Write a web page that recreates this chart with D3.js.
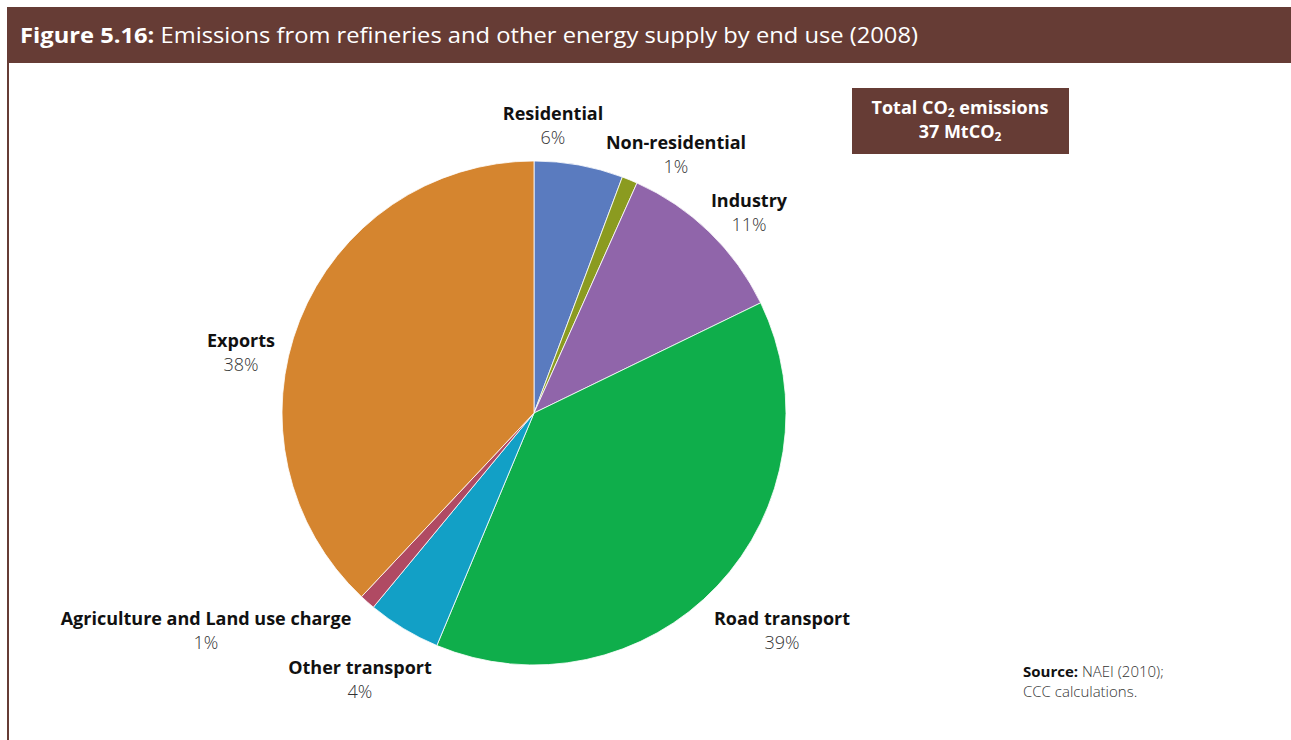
<!DOCTYPE html>
<html>
<head>
<meta charset="utf-8">
<script src="https://cdn.jsdelivr.net/npm/d3@7"></script>
<style>
  body { margin: 0; background: #fff; }
  svg { display: block; font-family: "Open Sans", "Noto Sans", sans-serif; }
</style>
</head>
<body>
<div id="root"></div>
<script>
// data, clockwise from 12 o'clock
const categories = ["Residential", "Non-residential", "Industry", "Road transport",
                    "Other transport", "Agriculture and Land use charge", "Exports"];
const shares = [5.7, 1.0, 11.1, 38.5, 4.7, 1.0, 38.0];
const shareLabels = ["6%", "1%", "11%", "39%", "4%", "1%", "38%"];
const colours = ["#5a7bbf", "#8b9b20", "#9065aa", "#0fae4b", "#12a0c6", "#b04a63", "#d5852f"];

const width = 1291, height = 740;
const brown = "#663c35";
const cx = 534, cy = 413, radius = 252;

// label centres (bold name line), chosen to match the layout
const labelAt = [[553, 120], [676, 149], [749, 207], [782, 625], [360, 674], [206, 625], [241, 347]];

function draw() {
	const svg = d3.select("#root").append("svg")
		.attr("width", width)
		.attr("height", height);

	// title bar and frame
	svg.append("rect")
		.attr("x", 7).attr("y", 7)
		.attr("width", width - 7).attr("height", 56)
		.attr("fill", brown);
	svg.append("line")
		.attr("x1", 8).attr("x2", 8)
		.attr("y1", 63).attr("y2", height)
		.attr("stroke", brown).attr("stroke-width", 2);

	const title = svg.append("text")
		.attr("x", 20).attr("y", 43)
		.attr("fill", "#fff")
		.attr("textLength", 898)
		.attr("lengthAdjust", "spacingAndGlyphs")
		.style("font-size", "22px");
	title.append("tspan").attr("font-weight", "bold").text("Figure 5.16:");
	title.append("tspan").text(" Emissions from refineries and other energy supply by end use (2008)");

	// pie
	const pie = d3.pie().sort(null).value(d => d)
		.startAngle(0).endAngle(2 * Math.PI);
	const arc = d3.arc().innerRadius(0).outerRadius(radius);

	const g = svg.append("g").attr("transform", `translate(${cx},${cy})`);
	g.selectAll("path.slice")
		.data(pie(shares))
		.enter()
		.append("path")
		.attr("class", "slice")
		.attr("d", arc)
		.attr("fill", (d, i) => colours[i])
		.attr("stroke", "#fff")
		.attr("stroke-width", 0.8);

	// labels
	const labels = svg.selectAll("g.label")
		.data(categories)
		.enter()
		.append("g")
		.attr("class", "label")
		.attr("transform", (d, i) => `translate(${labelAt[i][0]},${labelAt[i][1]})`);
	labels.append("text")
		.attr("text-anchor", "middle")
		.attr("fill", "#111")
		.attr("font-weight", "bold")
		.style("font-size", "18px")
		.text(d => d);
	labels.append("text")
		.attr("text-anchor", "middle")
		.attr("y", 24)
		.attr("fill", "#333")
		.attr("font-weight", 300)
		.style("font-size", "18px")
		.text((d, i) => shareLabels[i]);

	// total box, two lines in one text element
	const box = svg.append("g").attr("transform", "translate(852,88)");
	box.append("rect")
		.attr("width", 217).attr("height", 66)
		.attr("fill", brown);
	const t = box.append("text")
		.attr("text-anchor", "middle")
		.attr("fill", "#fff")
		.attr("font-weight", "bold")
		.style("font-size", "18px");
	t.append("tspan").attr("x", 108).attr("y", 26).text("Total CO");
	t.append("tspan").attr("dy", 3).style("font-size", "12px").text("2");
	t.append("tspan").attr("dy", -3).text(" emissions");
	t.append("tspan").attr("x", 108).attr("y", 50).text("37 MtCO");
	t.append("tspan").attr("dy", 3).style("font-size", "12px").text("2");

	// source note
	const src = svg.append("text")
		.attr("x", 1023).attr("y", 677)
		.attr("fill", "#333")
		.style("font-size", "15px");
	src.append("tspan").attr("font-weight", "bold").attr("fill", "#111").text("Source:");
	src.append("tspan").attr("font-weight", 300).text(" NAEI (2010);");
	src.append("tspan")
		.attr("x", 1023).attr("y", 697)
		.attr("font-weight", 300)
		.text("CCC calculations.");
}

draw();
</script>
</body>
</html>
